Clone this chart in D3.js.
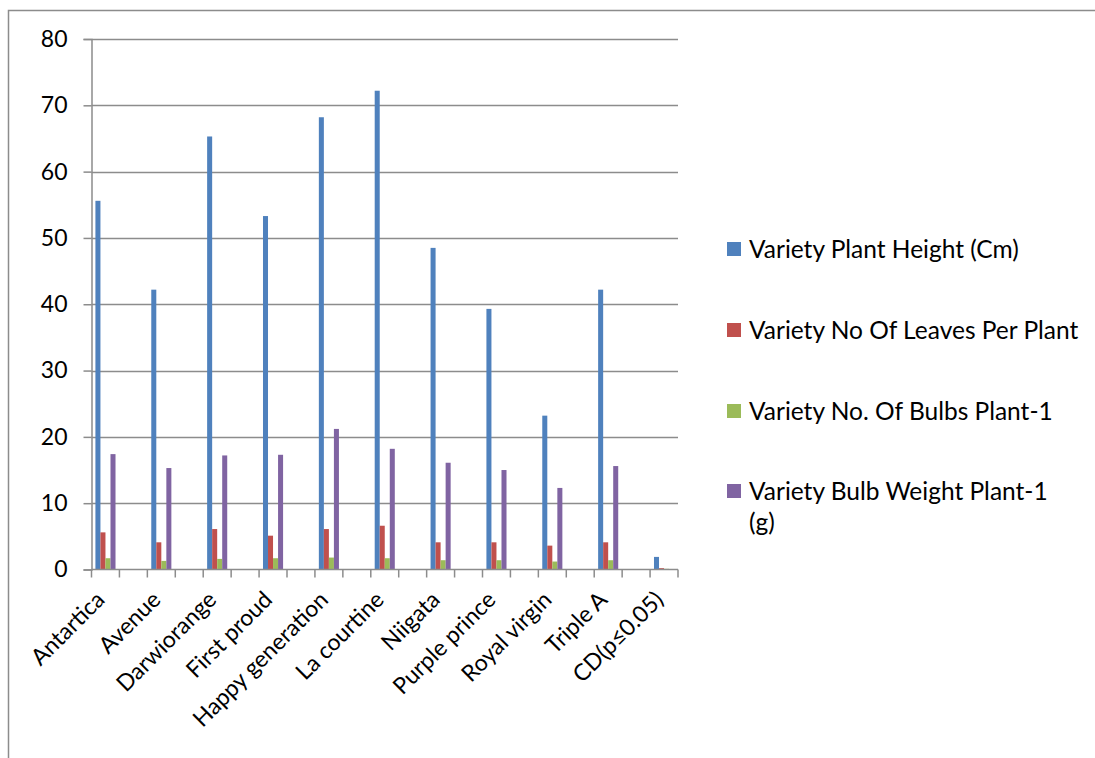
<!DOCTYPE html>
<html><head><meta charset="utf-8">
<script src="https://cdn.jsdelivr.net/npm/d3@7"></script>
<style>body{margin:0;background:#fff}svg{display:block}text{font-family:Lato,"Open Sans",sans-serif;fill:#000}</style>
</head><body><svg id="c" width="1095" height="758"></svg>
<script>
const categories = ["Antartica","Avenue","Darwiorange","First proud","Happy generation","La courtine","Niigata","Purple prince","Royal virgin","Triple A","CD(p\u22640.05)"];
const seriesNames = ["Variety Plant Height (Cm)","Variety No Of Leaves Per Plant","Variety No. Of Bulbs Plant-1","Variety Bulb Weight Plant-1 (g)"];
const plantHeight = [55.6,42.2,65.3,53.3,68.2,72.2,48.5,39.3,23.2,42.2,1.9];
const leavesPerPlant = [5.6,4.1,6.1,5.1,6.1,6.6,4.1,4.1,3.6,4.1,0.2];
const bulbsPerPlant = [1.7,1.3,1.6,1.7,1.8,1.7,1.4,1.4,1.2,1.4,0.1];
const bulbWeight = [17.4,15.3,17.2,17.3,21.2,18.2,16.1,15.0,12.3,15.6,0];
const yTicks = [0,10,20,30,40,50,60,70,80];
const colors = ["#4F81BD","#C0504D","#9BBB59","#8064A2"];
const seriesValues = [plantHeight, leavesPerPlant, bulbsPerPlant, bulbWeight];

const svg = d3.select("#c");
const L = 91.5, R = 678, T = 39, B = 569.5;
svg.append("path").attr("d","M8.5,758 L8.5,10.5 L1095,10.5").attr("fill","none").attr("stroke","#8c8c8c").attr("stroke-width",1.5);

const nSlots = categories.length*2 - 1;
const x0 = d3.scaleBand().domain(d3.range(nSlots)).range([L, R]).padding(0);
const x1 = d3.scaleBand().domain(d3.range(seriesNames.length)).range([0, x0.bandwidth()]).paddingInner(0).paddingOuter(0.78);
const y = d3.scaleLinear().domain([0,80]).range([B, T]);

svg.append("g").selectAll("line").data(yTicks.slice(1)).join("line")
  .attr("x1",L).attr("x2",R).attr("y1",d=>Math.round(y(d))+0.5).attr("y2",d=>Math.round(y(d))+0.5)
  .attr("stroke","#8c8c8c").attr("stroke-width",1.5);

const yAxis = svg.append("g").attr("transform",`translate(${L},0)`)
  .call(d3.axisLeft(y).tickValues(yTicks).tickSize(8).tickPadding(16));
yAxis.select(".domain").attr("stroke","#8c8c8c").attr("stroke-width",1.5);
yAxis.selectAll(".tick line").attr("stroke","#8c8c8c").attr("stroke-width",1.5);
yAxis.selectAll(".tick text").style("font-size","23px").style("font-family","Lato,sans-serif").attr("fill","#000");

const groups = svg.append("g").selectAll("g").data(categories).join("g")
  .attr("transform",(d,i)=>`translate(${x0(i*2)},0)`);
groups.selectAll("rect").data((d,i)=>seriesValues.map((s,k)=>({k,v:s[i]}))).join("rect")
  .attr("x",d=>x1(d.k)).attr("width",x1.bandwidth())
  .attr("y",d=>y(d.v)).attr("height",d=>B-y(d.v))
  .attr("fill",d=>colors[d.k]);

const xAxis = svg.append("g").attr("transform",`translate(0,${B})`);
xAxis.append("line").attr("x1",L).attr("x2",R).attr("stroke","#8c8c8c").attr("stroke-width",1.5);
const tickPos = d3.range(nSlots+1).map(i=> i<nSlots ? x0(i) : R);
xAxis.selectAll("line.t").data(tickPos).join("line").attr("class","t")
  .attr("x1",d=>d).attr("x2",d=>d).attr("y1",0).attr("y2",8)
  .attr("stroke","#8c8c8c").attr("stroke-width",1.5);
xAxis.selectAll("text").data(categories).join("text")
  .attr("transform",(d,i)=>`translate(${x0(i*2)+x0.bandwidth()/2-5},${26}) rotate(-45)`)
  .attr("text-anchor","end").attr("dy","0.35em")
  .style("font-size","23px").text(d=>d);

const legY = [249,330,411,491];
const leg = svg.append("g").selectAll("g").data(seriesNames).join("g")
  .attr("transform",(d,i)=>`translate(727,${legY[i]})`);
leg.append("rect").attr("x",0).attr("y",-7).attr("width",14).attr("height",14).attr("fill",(d,i)=>colors[i]);
leg.append("text").attr("x",22).attr("dy","0.35em").style("font-size","24.5px")
  .each(function(d){
    const t = d3.select(this);
    if (d.endsWith(" (g)")) {
      t.append("tspan").attr("x",22).text(d.slice(0,-4));
      t.append("tspan").attr("x",22).attr("dy","1.3em").text("(g)");
    } else t.text(d);
  });
</script></body></html>
